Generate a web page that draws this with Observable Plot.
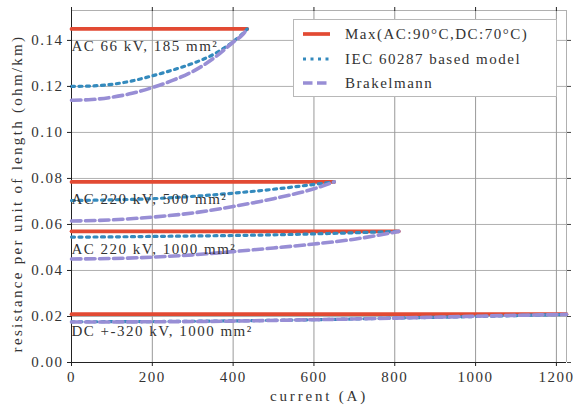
<!DOCTYPE html>
<html><head><meta charset="utf-8">
<script src="https://cdn.jsdelivr.net/npm/d3@7"></script>
<script src="https://cdn.jsdelivr.net/npm/@observablehq/plot@0.6"></script>
<style>
body{margin:0;background:#fff;}
#wrap{position:relative;width:573px;height:412px;}
#wrap svg text{letter-spacing:1.5px;}
.leg{position:absolute;left:293px;top:19px;width:262px;height:76px;border:1px solid #b8b8b8;background:#fff;font-family:"Liberation Serif";font-size:15px;letter-spacing:1.5px;color:#333;}
.row{position:absolute;left:9px;height:20px;display:flex;align-items:center;white-space:nowrap;}
.row svg{margin-right:15px;}
</style></head>
<body><div id="wrap"></div>
<script>
// ---- data ----
const xTicks = [0, 200, 400, 600, 800, 1000, 1200];
const yTicks = [0, 0.02, 0.04, 0.06, 0.08, 0.10, 0.12, 0.14];
const cables = ["AC 66 kV, 185 mm²", "AC 220 kV, 500 mm²", "AC 220 kV, 1000 mm²", "DC +-320 kV, 1000 mm²"];
const models = ["Max(AC:90°C,DC:70°C)", "IEC 60287 based model", "Brakelmann"];
const maxR = [0.145, 0.0785, 0.057, 0.021];
const maxI = [435, 650, 810, 1225];
const currentsAC66 = [0, 50, 100, 150, 200, 250, 300, 350, 400, 425, 435];
const iecAC66 = [0.1200, 0.1202, 0.1209, 0.1224, 0.1246, 0.1271, 0.1300, 0.1338, 0.1395, 0.1432, 0.1450];
const brakAC66 = [0.1140, 0.1143, 0.1153, 0.1170, 0.1195, 0.1226, 0.1265, 0.1320, 0.1392, 0.1428, 0.1450];
const currentsAC500 = [0, 100, 200, 300, 400, 500, 600, 650];
const iecAC500 = [0.0704, 0.0707, 0.0712, 0.0722, 0.0736, 0.0753, 0.0774, 0.0785];
const brakAC500 = [0.0615, 0.0620, 0.0632, 0.0650, 0.0678, 0.0712, 0.0755, 0.0785];
const currentsAC1000 = [0, 100, 200, 300, 400, 500, 600, 700, 810];
const iecAC1000 = [0.0545, 0.0546, 0.0548, 0.0550, 0.0552, 0.0555, 0.0559, 0.0564, 0.0570];
const brakAC1000 = [0.0450, 0.0452, 0.0458, 0.0468, 0.0482, 0.0498, 0.0515, 0.0536, 0.0570];
const currentsDC = [0, 200, 400, 600, 800, 1000, 1100, 1225];
const iecDC = [0.0177, 0.0178, 0.0181, 0.0186, 0.0193, 0.0200, 0.0204, 0.0209];
const brakDC = [0.0176, 0.0177, 0.0180, 0.0186, 0.0193, 0.0201, 0.0205, 0.0209];
const xLabel = "current (A)";
const yLabel = "resistance per unit of length (ohm/km)";

// ---- styles ----
const colors = ["#E24A33", "#348ABD", "#988ED5"];
const widths = [3.7, 3.2, 3.6];
const dashes = [null, "3,4.5", "9.5,4.5"];
const font = "Liberation Serif";

// ---- tables ----
const currents = [currentsAC66, currentsAC500, currentsAC1000, currentsDC];
const iec = [iecAC66, iecAC500, iecAC1000, iecDC];
const brak = [brakAC66, brakAC500, brakAC1000, brakDC];
const maxRows = cables.flatMap((c, i) => [{cable: c, current: 0, r: maxR[i]}, {cable: c, current: maxI[i], r: maxR[i]}]);
const iecRows = cables.flatMap((c, i) => currents[i].map((x, j) => ({cable: c, current: x, r: iec[i][j]})));
const brakRows = cables.flatMap((c, i) => currents[i].map((x, j) => ({cable: c, current: x, r: brak[i][j]})));
const labelRows = cables.map((c, i) => ({cable: c, current: 0, r: maxR[i]}));
const xMax = 1225, yMax = 0.153;

const chart = Plot.plot({
  width: 573, height: 412,
  marginLeft: 71, marginRight: 7, marginTop: 10, marginBottom: 50,
  x: {domain: [0, xMax]},
  y: {domain: [0, yMax]},
  style: {fontFamily: font, fontSize: "15px", color: "#333", background: "#fff", overflow: "visible"},
  marks: [
    Plot.ruleY(yTicks, {stroke: "#b0b0b0", strokeWidth: 1}),
    Plot.ruleX(xTicks, {stroke: "#999", strokeWidth: 1}),
    Plot.ruleY([yMax], {stroke: "#b0b0b0"}),
    Plot.ruleX([xMax], {stroke: "#b0b0b0"}),
    Plot.ruleX([0], {stroke: "#222"}),
    Plot.ruleY([0], {stroke: "#222"}),
    Plot.line(maxRows, {x: "current", y: "r", z: "cable", stroke: colors[0], strokeWidth: widths[0]}),
    Plot.line(iecRows, {x: "current", y: "r", z: "cable", stroke: colors[1], strokeWidth: widths[1], strokeDasharray: dashes[1], curve: "monotone-x"}),
    Plot.line(brakRows, {x: "current", y: "r", z: "cable", stroke: colors[2], strokeWidth: widths[2], strokeDasharray: dashes[2], curve: "monotone-x"}),
    Plot.text(labelRows, {x: "current", y: "r", text: "cable", textAnchor: "start", lineAnchor: "top", dy: 11.5, fill: "#333", fontSize: 15}),
    Plot.axisX({anchor: "bottom", ticks: xTicks, tickSize: 4, tickPadding: 5, tickFormat: d => String(d), label: null, stroke: "#222"}),
    Plot.axisX({anchor: "top", ticks: xTicks, tickSize: 4, tickFormat: () => "", label: null, stroke: "#222"}),
    Plot.axisY({anchor: "left", ticks: yTicks, tickSize: 4, tickPadding: 4, tickFormat: d3.format(".2f"), label: null, stroke: "#222"}),
    Plot.axisY({anchor: "right", ticks: yTicks, tickSize: 4, tickFormat: () => "", label: null, stroke: "#444"}),
    Plot.text([xLabel], {frameAnchor: "bottom", dy: 38, text: d => d, fill: "#333", fontSize: 15}),
    Plot.text([yLabel], {frameAnchor: "left", textAnchor: "middle", dx: -54, dy: 7, rotate: -90, text: d => d, fill: "#333", fontSize: 15})
  ]
});
const wrap = document.getElementById("wrap");
wrap.appendChild(chart);
d3.select(chart).selectAll("text")
  .filter(function () { return this.textContent === yLabel; }).style("letter-spacing", "2.3px");
d3.select(chart).selectAll("text")
  .filter(function () { return this.textContent === xLabel; }).style("letter-spacing", "2.8px");

// legend
const leg = document.createElement("div");
leg.className = "leg";
const rowCenters = [14, 39, 63];
models.forEach((m, i) => {
  const row = document.createElement("div");
  row.className = "row";
  row.style.top = (rowCenters[i] - 10) + "px";
  row.innerHTML = `<svg width="27" height="8"><line x1="0" x2="27" y1="4" y2="4" stroke="${colors[i]}" stroke-width="${widths[i]}" ${dashes[i] ? `stroke-dasharray="${dashes[i]}"` : ""}/></svg><span>${m}</span>`;
  leg.appendChild(row);
});
wrap.appendChild(leg);
</script>
</body></html>
